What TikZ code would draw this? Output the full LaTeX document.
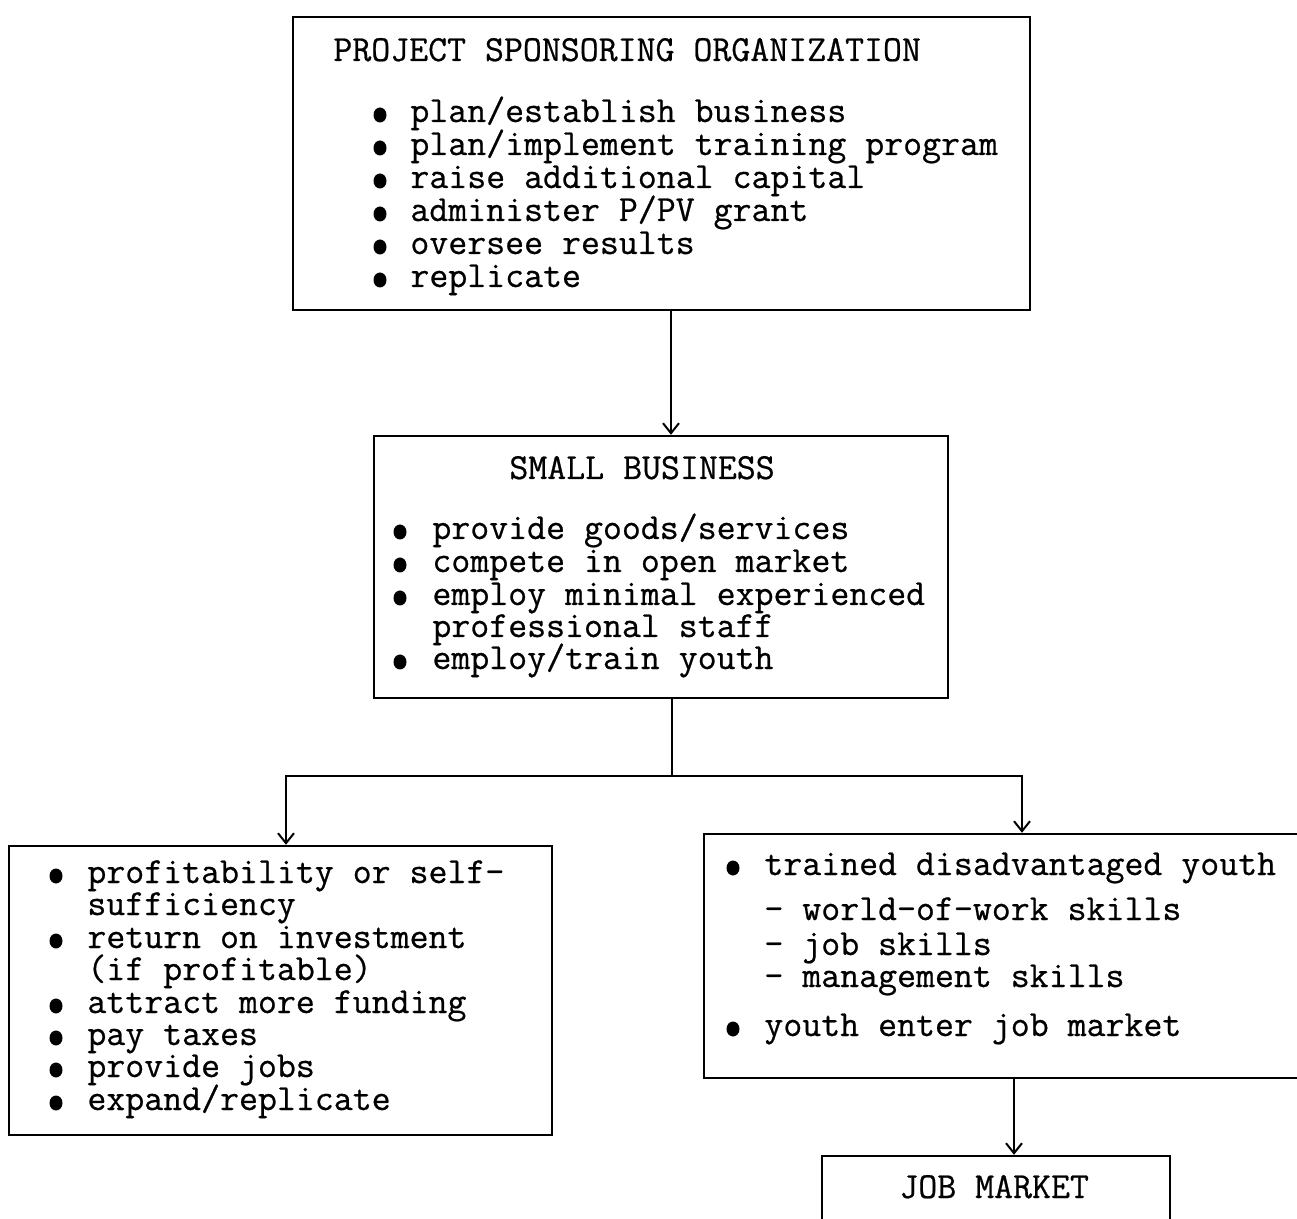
\documentclass[tikz,border=0pt]{standalone}
\usepackage{fontspec}
\newfontfamily\twfont{Latin Modern Mono}[FakeBold=0.6]
\usetikzlibrary{arrows.meta}
\tikzset{
  box/.style={draw, line width=1.2pt, rectangle, inner sep=0pt},
  txt/.style={font=\fontsize{18.4pt}{20pt}\selectfont\twfont, anchor=base west, inner sep=0pt, text height=0.62em, text depth=0.18em},
  conn/.style={line width=1pt},
  arr/.style={line width=1pt, -{Straight Barb[length=5pt,width=8pt,line width=1pt]}},
  dot/.style={fill=black}
}
\begin{document}
\begin{tikzpicture}[x=0.5pt,y=-0.5pt]
\useasboundingbox (0,0) rectangle (1297,1219);
\clip (0,0) rectangle (1297,1219);

% boxes
\node[box, minimum width=368.5pt, minimum height=146.5pt] (b1) at (661.5,163.5) {};
\node[box, minimum width=287pt, minimum height=131pt] (b2) at (661,567) {};
\node[box, minimum width=271.5pt, minimum height=144.5pt] (b3) at (280.5,990.5) {};
\node[box, minimum width=308pt, minimum height=122pt] (b4) at (1012,956) {};
\node[box, minimum width=174pt, minimum height=42pt] (b5) at (996,1198) {};

% box 1 text
\node[txt] (t1) at (333,61) {PROJECT SPONSORING ORGANIZATION};
\node[txt] (t1a) at (410,122) {plan/establish business};
\node[txt] (t1b) at (410,155) {plan/implement training program};
\node[txt] (t1c) at (410,188) {raise additional capital};
\node[txt] (t1d) at (410,221) {administer P/PV grant};
\node[txt] (t1e) at (410,254) {oversee results};
\node[txt] (t1f) at (410,287) {replicate};
\foreach \y in {122,155,188,221,254,287} \fill[dot] (380,\y-7) ellipse (6.5 and 7.5);

% box 2 text
\node[txt] (t2) at (509,479) {SMALL BUSINESS};
\node[txt] (t2a) at (432,539) {provide goods/services};
\node[txt] (t2b) at (432,572) {compete in open market};
\node[txt] (t2c) at (432,605) {employ minimal experienced};
\node[txt] (t2d) at (432,637) {professional staff};
\node[txt] (t2e) at (432,669) {employ/train youth};
\foreach \y in {539,572,605,669} \fill[dot] (400,\y-7) ellipse (6.5 and 7.5);

% box 3 text
\node[txt] (t3a) at (87,883) {profitability or self-};
\node[txt] (t3b) at (87,915) {sufficiency};
\node[txt] (t3c) at (87,948) {return on investment};
\node[txt] (t3d) at (87,980) {(if profitable)};
\node[txt] (t3e) at (87,1013) {attract more funding};
\node[txt] (t3f) at (87,1045) {pay taxes};
\node[txt] (t3g) at (87,1077) {provide jobs};
\node[txt] (t3h) at (87,1110) {expand/replicate};
\foreach \y in {883,948,1013,1045,1077,1110} \fill[dot] (56,\y-7) ellipse (6.5 and 7.5);

% box 4 text
\node[txt] (t4a) at (764,875) {trained disadvantaged youth};
\node[txt] (t4b) at (764,920) {- world-of-work skills};
\node[txt] (t4c) at (764,955) {- job skills};
\node[txt] (t4d) at (764,987) {- management skills};
\node[txt] (t4e) at (764,1036) {youth enter job market};
\foreach \y in {875,1036} \fill[dot] (733,\y-7) ellipse (6.5 and 7.5);

% box 5 text
\node[txt] (t5) at (899,1198) {JOB MARKET};

% connectors
\coordinate (a1) at ([xshift=4.75pt]b1.south);
\draw[arr] (a1) -- (a1 |- b2.north);
\coordinate (j) at (672,776);
\draw[conn] (b2.south -| j) -- (j);
\draw[arr] (j) -| ([xshift=2.75pt]b3.north);
\draw[arr] (j) -| ([xshift=5pt]b4.north);
\coordinate (k) at ([xshift=9pt]b5.north);
\draw[arr] (b4.south -| k) -- (k);
\end{tikzpicture}
\end{document}
